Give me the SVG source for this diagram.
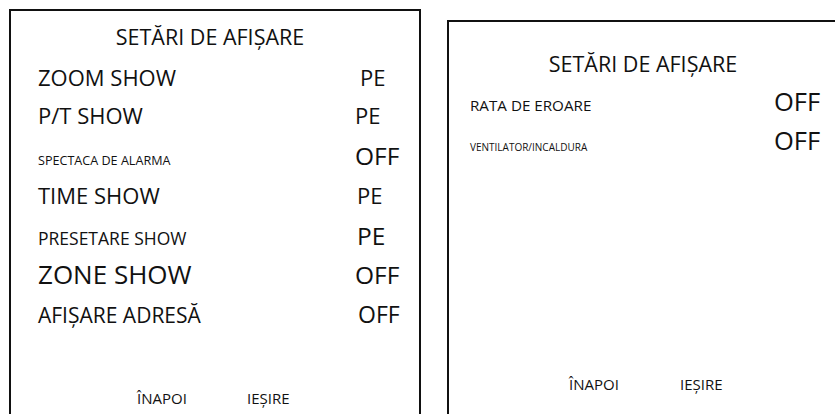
<svg xmlns="http://www.w3.org/2000/svg" width="835" height="414" viewBox="0 0 835 414">
<style>
text{font-family:"Open Sans","Noto Sans","DejaVu Sans",sans-serif;fill:#111;}
.frame{fill:#fff;stroke:#111;stroke-width:2;}
</style>
<rect x="0" y="0" width="835" height="414" fill="#fff"/>
<g id="panel-left">
<rect class="frame" x="10" y="10" width="410" height="420"/>
<text x="210" y="45" font-size="21.5" text-anchor="middle">SETĂRI DE AFIȘARE</text>
<text x="38" y="86" font-size="22">ZOOM SHOW</text>
<text x="360" y="86" font-size="22">PE</text>
<text x="38" y="124" font-size="22">P/T SHOW</text>
<text x="355" y="124" font-size="22">PE</text>
<text x="38" y="165" font-size="12.6">SPECTACA DE ALARMA</text>
<text x="355" y="165" font-size="24.5">OFF</text>
<text x="38" y="204" font-size="22">TIME SHOW</text>
<text x="357" y="204" font-size="22">PE</text>
<text x="38" y="245" font-size="17.5">PRESETARE SHOW</text>
<text x="357" y="245" font-size="24.5">PE</text>
<text x="38" y="284" font-size="26">ZONE SHOW</text>
<text x="355" y="284" font-size="24.5">OFF</text>
<text x="38" y="323" font-size="21">AFIȘARE ADRESĂ</text>
<text x="358" y="323" font-size="23">OFF</text>
<text x="137" y="404" font-size="15">ÎNAPOI</text>
<text x="247" y="404" font-size="15">IEȘIRE</text>
</g>
<g id="panel-right">
<rect class="frame" x="448" y="21" width="400" height="410"/>
<text x="643" y="72" font-size="21.5" text-anchor="middle">SETĂRI DE AFIȘARE</text>
<text x="470" y="111" font-size="15.2">RATA DE EROARE</text>
<text x="774" y="111" font-size="25.5">OFF</text>
<text x="470" y="151" font-size="10">VENTILATOR/INCALDURA</text>
<text x="774" y="150" font-size="25.5">OFF</text>
<text x="569" y="390" font-size="15">ÎNAPOI</text>
<text x="680" y="390" font-size="15">IEȘIRE</text>
</g>
<g id="connectors"></g>
</svg>
